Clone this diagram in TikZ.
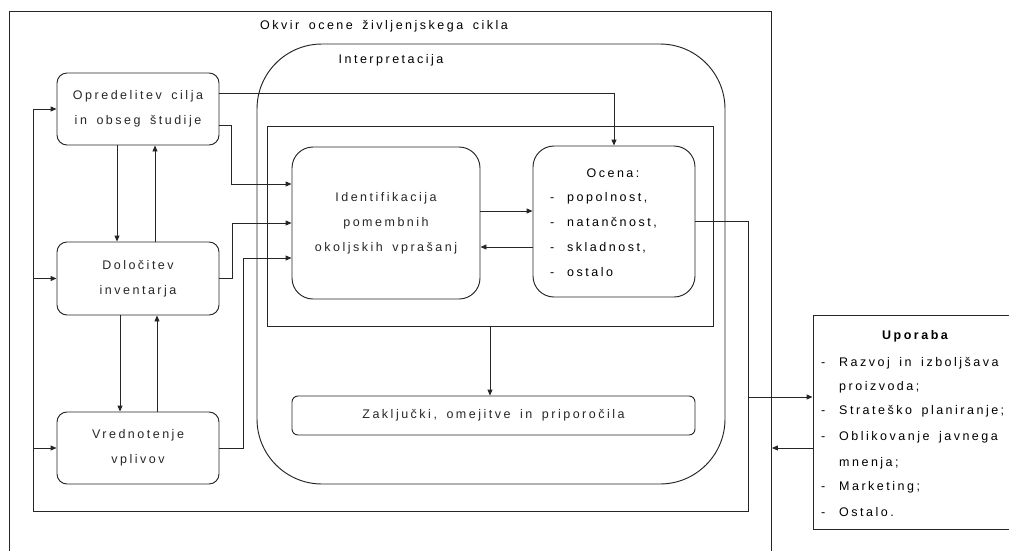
\documentclass[tikz,border=0pt]{standalone}
\usepackage{fontspec}
\setmainfont{Liberation Sans}[LetterSpace=20, WordSpace=1.6]
\usetikzlibrary{arrows.meta}

\tikzset{
  line/.style={line width=0.95pt, black!85},
  arr/.style={line, -{Triangle[length=6pt,width=5pt]}},
  leftbox/.style={draw, line, rounded corners=10pt, minimum width=162pt, minimum height=72pt, align=center, inner sep=0pt},
  bigbox/.style={draw, line, rounded corners=21pt, inner sep=0pt},
  plainbox/.style={draw, line, inner sep=0pt},
  txt/.style={inner sep=0pt, anchor=base west},
}
% list entry with a hanging dash
\newcommand\dashitem[2]{\makebox[#1][l]{-}#2}

\begin{document}
\begin{tikzpicture}[x=1pt, y=-1pt, font=\fontsize{12.5}{25}\selectfont]
\useasboundingbox (0,0) rectangle (1009,550);
\clip (0,0) rectangle (1009,550);

% life-cycle frame (open at the bottom edge)
\node[plainbox, minimum width=762pt, minimum height=560pt, anchor=north west] (frame) at (9,11) {};
\node[inner sep=0pt] (frametitle) at (384,26) {Okvir ocene življenjskega cikla};

% interpretation phase
\node[draw, line, rounded corners=65pt, minimum width=468pt, minimum height=440pt, inner sep=0pt] (interp) at (491,264) {};
\node[inner sep=0pt] (interptitle) at (391,60) {Interpretacija};
\node[plainbox, minimum width=446pt, minimum height=200pt] (inner) at (490,226) {};

% left column: LCA phases
\node[leftbox] (opr) at (138,109) {Opredelitev cilja\\in obseg študije};
\node[leftbox, minimum height=73pt] (dol) at (138,278.5) {Določitev\\inventarja};
\node[leftbox] (vre) at (138,448) {Vrednotenje\\vplivov};

% interpretation contents
\node[bigbox, minimum width=188pt, minimum height=152pt, align=center] (idf) at (386,223) {Identifikacija\\pomembnih\\okoljskih vprašanj};
\node[bigbox, minimum width=162pt, minimum height=151pt] (oce) at (614,221.5) {};
\node[inner sep=0pt] (ocetitle) at (613,173) {Ocena:};
\node[txt] (oc1) at (550,201.5) {\dashitem{17pt}{popolnost,}};
\node[txt] (oc2) at (550,226.5) {\dashitem{17pt}{natančnost,}};
\node[txt] (oc3) at (550,251.5) {\dashitem{17pt}{skladnost,}};
\node[txt] (oc4) at (550,276.5) {\dashitem{17pt}{ostalo}};
\node[draw, line, rounded corners=6pt, minimum width=403pt, minimum height=39pt, inner sep=0pt] (zak) at (493.5,415.5) {Zaključki, omejitve in priporočila};

% applications (box runs past the right edge)
\node[plainbox, minimum width=202pt, minimum height=214pt] (upo) at (914,422) {};
\node[inner sep=0pt] (upotitle) at (915,336) {\bfseries Uporaba};
\node[txt] (up1) at (821,366) {\dashitem{18pt}{Razvoj in izboljšava}};
\node[txt] (up2) at (839,390) {proizvoda;};
\node[txt] (up3) at (821,414.5) {\dashitem{18pt}{Strateško planiranje;}};
\node[txt] (up4) at (821,440) {\dashitem{18pt}{Oblikovanje javnega}};
\node[txt] (up5) at (839,466) {mnenja;};
\node[txt] (up6) at (821,490.5) {\dashitem{18pt}{Marketing;}};
\node[txt] (up7) at (821,516) {\dashitem{18pt}{Ostalo.}};

% feedback loop around the phases
\coordinate (lr) at (748,511);
\coordinate (ll) at (33,511);
\draw[arr] (oce.east) -| (lr) -- (ll) |- (opr.west);
\draw[arr] (ll |- dol.west) -- (dol.west);
\draw[arr] (ll |- vre.west) -- (vre.west);
\coordinate (upin) at ([yshift=25pt]upo.west);
\draw[arr] (lr |- upin) -- (upin);
\coordinate (upout) at ([yshift=-26pt]upo.west);
\draw[arr] (upout) -- (upout -| frame.east);

% links between the phases
\draw[arr] ([xshift=-21pt]opr.south) -- ([xshift=-21pt]dol.north);
\draw[arr] ([xshift=17pt]dol.north) -- ([xshift=17pt]opr.south);
\draw[arr] ([xshift=-18pt]dol.south) -- ([xshift=-18pt]vre.north);
\draw[arr] ([xshift=19pt]vre.north) -- ([xshift=19pt]dol.south);

% phases into interpretation
\draw[arr] ([yshift=16pt]opr.east) -| (oce.north);
\draw[arr] ([yshift=-16pt]opr.east) -- ++(12,0) |- ([yshift=39pt]idf.west);
\draw[arr] (dol.east) -- ++(13,0) |- (idf.west);
\draw[arr] (vre.east) -- ++(24,0) |- ([yshift=-35pt]idf.west);

% identification <-> evaluation
\coordinate (i1) at ([yshift=12pt]idf.east);
\draw[arr] (i1) -- (i1 -| oce.west);
\coordinate (o1) at ([yshift=-24pt]idf.east);
\draw[arr] (o1 -| oce.west) -- (o1);

% towards conclusions
\draw[arr] (inner.south) -- (inner.south |- zak.north);
\end{tikzpicture}
\end{document}
